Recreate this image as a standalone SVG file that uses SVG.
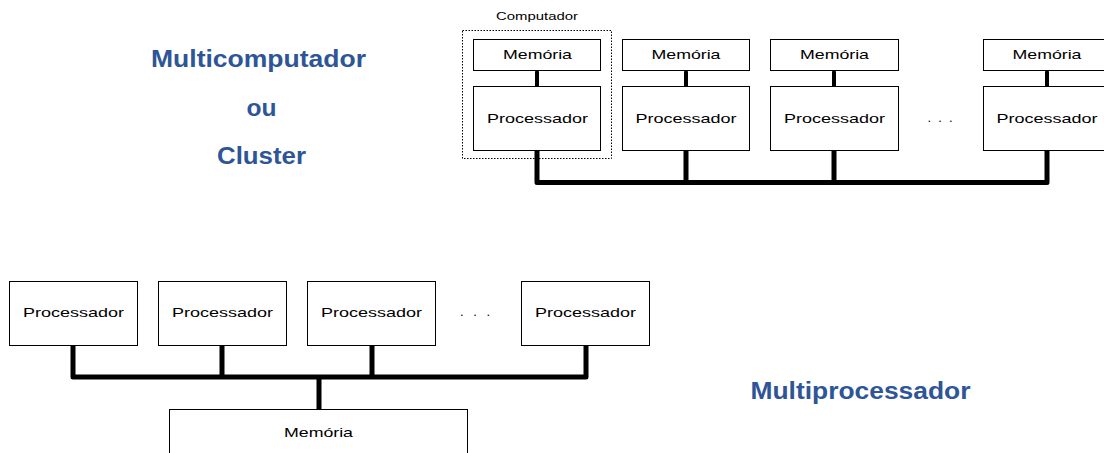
<svg xmlns="http://www.w3.org/2000/svg" width="1104" height="453" viewBox="0 0 1104 453">
<style>
.box{fill:#fff;stroke:#000;stroke-width:1}
.t{font-family:"Liberation Sans",Arial,sans-serif;font-size:13px;fill:#000;text-anchor:middle}
.ttl{font-family:"Liberation Sans",Arial,sans-serif;font-size:23px;font-weight:bold;fill:#2E5597;text-anchor:middle}
.w{stroke:#000;stroke-width:4;fill:none;stroke-linecap:round}
.bus{stroke:#000;stroke-width:5;fill:none;stroke-linejoin:round;stroke-linecap:round}
</style>
<rect width="1104" height="453" fill="#fff"/>
<g id="titles">
<text class="ttl" x="258.5" y="67" textLength="215" lengthAdjust="spacingAndGlyphs">Multicomputador</text>
<text class="ttl" x="261.5" y="116" textLength="30" lengthAdjust="spacingAndGlyphs">ou</text>
<text class="ttl" x="261.5" y="163.5" textLength="89" lengthAdjust="spacingAndGlyphs">Cluster</text>
<text class="ttl" x="860.5" y="398.5" textLength="220" lengthAdjust="spacingAndGlyphs">Multiprocessador</text>
</g>
<g id="connectors">
<line class="w" x1="537" y1="72" x2="537" y2="86"/>
<line class="w" x1="686" y1="72" x2="686" y2="86"/>
<line class="w" x1="834" y1="72" x2="834" y2="86"/>
<line class="w" x1="1047" y1="72" x2="1047" y2="86"/>
<path class="bus" d="M537 151 V182.5 H1047 V151 M686 151 V182.5 M834 151 V182.5"/>
<path class="bus" d="M73 345 V377 H586 V345 M222 345 V377 M372 345 V377 M319 377 V409"/>
</g>
<g id="computador">
<rect x="462.5" y="30.5" width="149" height="128" fill="none" stroke="#000" stroke-width="1" stroke-dasharray="1.5,1.5"/>
<text class="t" x="537" y="20" style="font-size:10px" textLength="82" lengthAdjust="spacingAndGlyphs">Computador</text>
</g>
<g id="mem1"><rect class="box" x="473.5" y="39.5" width="127" height="31"/><text class="t" x="537.5" y="58.7" textLength="69" lengthAdjust="spacingAndGlyphs">Memória</text></g>
<g id="mem2"><rect class="box" x="622.5" y="39.5" width="127" height="31"/><text class="t" x="686" y="58.7" textLength="69" lengthAdjust="spacingAndGlyphs">Memória</text></g>
<g id="mem3"><rect class="box" x="770.5" y="39.5" width="128" height="31"/><text class="t" x="834.5" y="58.7" textLength="69" lengthAdjust="spacingAndGlyphs">Memória</text></g>
<g id="mem4"><rect class="box" x="983.5" y="39.5" width="128" height="31"/><text class="t" x="1047" y="58.7" textLength="69" lengthAdjust="spacingAndGlyphs">Memória</text></g>
<g id="proc1"><rect class="box" x="473.5" y="86.5" width="127" height="64"/><text class="t" x="537.5" y="123.3" textLength="101" lengthAdjust="spacingAndGlyphs">Processador</text></g>
<g id="proc2"><rect class="box" x="622.5" y="86.5" width="127" height="64"/><text class="t" x="686" y="123.3" textLength="101" lengthAdjust="spacingAndGlyphs">Processador</text></g>
<g id="proc3"><rect class="box" x="770.5" y="86.5" width="128" height="64"/><text class="t" x="834.5" y="123.3" textLength="101" lengthAdjust="spacingAndGlyphs">Processador</text></g>
<g id="proc4"><rect class="box" x="983.5" y="86.5" width="128" height="64"/><text class="t" x="1047" y="123.3" textLength="101" lengthAdjust="spacingAndGlyphs">Processador</text></g>
<text class="t" x="940" y="122" textLength="25" lengthAdjust="spacing">. . .</text>
<g id="bproc1"><rect class="box" x="9.5" y="281.5" width="128" height="64"/><text class="t" x="73.5" y="317" textLength="101" lengthAdjust="spacingAndGlyphs">Processador</text></g>
<g id="bproc2"><rect class="box" x="158.5" y="281.5" width="128" height="64"/><text class="t" x="222.5" y="317" textLength="101" lengthAdjust="spacingAndGlyphs">Processador</text></g>
<g id="bproc3"><rect class="box" x="307.5" y="281.5" width="128" height="64"/><text class="t" x="371.5" y="317" textLength="101" lengthAdjust="spacingAndGlyphs">Processador</text></g>
<g id="bproc4"><rect class="box" x="521.5" y="281.5" width="128" height="64"/><text class="t" x="585.5" y="317" textLength="101" lengthAdjust="spacingAndGlyphs">Processador</text></g>
<text class="t" x="475" y="316" textLength="30" lengthAdjust="spacing">. . .</text>
<g id="bmem"><rect class="box" x="169.5" y="409.5" width="298" height="60"/><text class="t" x="318.5" y="437" textLength="69" lengthAdjust="spacingAndGlyphs">Memória</text></g>
</svg>
